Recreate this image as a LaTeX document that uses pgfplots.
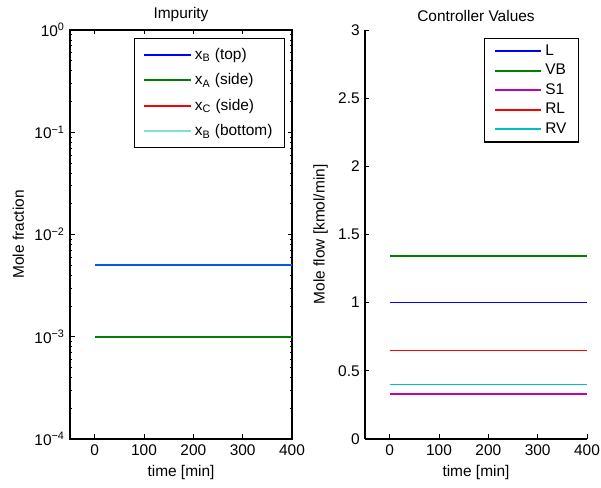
\documentclass[border=0pt]{standalone}
\usepackage{fontspec}
\setmainfont{Liberation Sans}
\usepackage{pgfplots}
\pgfplotsset{compat=1.18}

\definecolor{mblue}{rgb}{0,0,1}
\definecolor{mgreen}{rgb}{0,0.5,0}
\definecolor{mred}{rgb}{1,0,0}
\definecolor{mcyan}{rgb}{0,0.75,0.75}
\definecolor{mmagenta}{rgb}{0.75,0,0.75}

\pgfplotsset{
  mstyle/.style={
    scale only axis, width=148pt, height=272.67pt,
    xmin=-50, xmax=400, xtick={0,100,...,400},
    tick align=inside, major tick length=3pt, minor tick length=1.5pt,
    tick style={black, line width=0.5pt},
    axis line style={line width=0.7pt},
    xlabel={time [min]},
    font=\fontsize{10.3}{12}\selectfont,
    title style={yshift=-4pt},
    /pgf/number format/assume math mode=true,
    legend cell align=left,
    legend image code/.code={\draw[##1, line width=1.25pt] (0pt,0pt) -- (31pt,0pt);},
    legend style={draw=black, line width=0.7pt, at={(1,1)}, anchor=north east,
      inner xsep=6pt, font=\fontsize{10.3}{12}\selectfont},
    every axis plot/.append style={line width=1.1pt, mark=none},
  }
}

\begin{document}
\begin{tikzpicture}
\useasboundingbox (0,0) rectangle (400.67pt,325.33pt);

\begin{axis}[mstyle,
  at={(46.67pt,32.67pt)}, anchor=south west,
  title={Impurity},
  ymode=log, ymin=1e-4, ymax=1,
  ytick={1e-4,1e-3,1e-2,1e-1,1},
  minor ytick={2e-4,3e-4,4e-4,5e-4,6e-4,7e-4,8e-4,9e-4,
               2e-3,3e-3,4e-3,5e-3,6e-3,7e-3,8e-3,9e-3,
               2e-2,3e-2,4e-2,5e-2,6e-2,7e-2,8e-2,9e-2,
               2e-1,3e-1,4e-1,5e-1,6e-1,7e-1,8e-1,9e-1},
  yticklabels={10\textsuperscript{−4},10\textsuperscript{−3},10\textsuperscript{−2},10\textsuperscript{−1},10\textsuperscript{0}},
  ylabel={Mole fraction},
  legend style={xshift=-4.7pt, yshift=-5.3pt, row sep=4pt, inner ysep=4.5pt},
]
\addplot[mblue] coordinates {(0,5e-3) (400,5e-3)};
\addlegendentry{x\textsubscript{B} (top)}
\addplot[mgreen] coordinates {(0,1e-3) (400,1e-3)};
\addlegendentry{x\textsubscript{A} (side)}
\addplot[mred] coordinates {(0,1e-5) (400,1e-5)};
\addlegendentry{x\textsubscript{C} (side)}
\addplot[mcyan, draw opacity=0.5] coordinates {(0,5e-3) (400,5e-3)};
\addlegendentry{x\textsubscript{B} (bottom)}
\end{axis}

\begin{axis}[mstyle,
  at={(243.33pt,32.67pt)}, anchor=south west,
  title={Controller Values},
  axis lines*=left,
  ymin=0, ymax=3, ytick={0,0.5,...,3},
  yticklabels={0,0.5,1,1.5,2,2.5,3},
  ylabel={Mole flow [kmol/min]},
  legend style={xshift=-5.3pt, yshift=-5.3pt, row sep=0.4pt, inner ysep=2.2pt},
]
\addplot[mblue] coordinates {(0,1.00) (400,1.00)};
\addlegendentry{L}
\addplot[mgreen] coordinates {(0,1.34) (400,1.34)};
\addlegendentry{VB}
\addplot[mmagenta] coordinates {(0,0.33) (400,0.33)};
\addlegendentry{S1}
\addplot[mred] coordinates {(0,0.65) (400,0.65)};
\addlegendentry{RL}
\addplot[mcyan] coordinates {(0,0.40) (400,0.40)};
\addlegendentry{RV}
\end{axis}
\end{tikzpicture}
\end{document}
